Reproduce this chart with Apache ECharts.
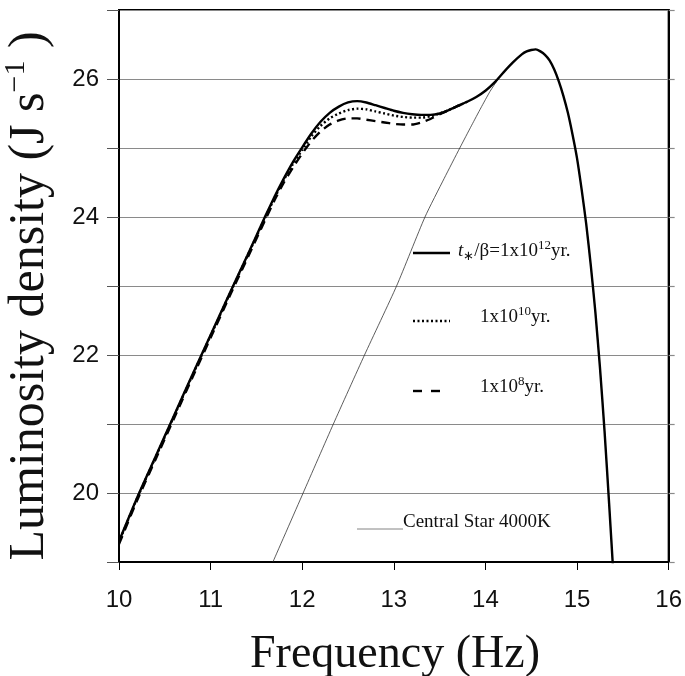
<!DOCTYPE html>
<html>
<head>
<meta charset="utf-8">
<script src="https://cdn.jsdelivr.net/npm/echarts@6/dist/echarts.min.js"></script>
<style>html,body{margin:0;padding:0;background:#fff}#c{width:685px;height:676px}</style>
</head>
<body>
<div id="c"></div>
<script>
// Frequency axis (log Hz) and luminosity density (log J s^-1)
var xTicks = [10, 11, 12, 13, 14, 15, 16];
var yTicks = [20, 22, 24, 26];

// t*/beta = 1e12 yr (solid)
var freqSolid = [10.0, 10.2, 10.4, 10.6, 10.8, 11.0, 11.2, 11.4, 11.6, 11.7, 11.8, 11.9, 12.0, 12.1, 12.2, 12.3, 12.4, 12.5, 12.6, 12.7, 12.8, 12.9, 13.0, 13.1, 13.2, 13.3, 13.4, 13.5, 13.6, 13.7, 13.8, 13.9, 14.0, 14.1, 14.2, 14.3, 14.4, 14.45, 14.5, 14.55, 14.6, 14.65, 14.7, 14.75, 14.8, 14.85, 14.9, 14.95, 15.0, 15.05, 15.1, 15.15, 15.2, 15.25, 15.3, 15.35, 15.4];
var lumSolid  = [19.30, 19.94, 20.53, 21.12, 21.71, 22.29, 22.87, 23.44, 24.02, 24.30, 24.56, 24.80, 25.01, 25.21, 25.38, 25.51, 25.60, 25.66, 25.68, 25.66, 25.62, 25.58, 25.54, 25.51, 25.49, 25.48, 25.48, 25.50, 25.55, 25.61, 25.67, 25.74, 25.83, 25.95, 26.10, 26.24, 26.36, 26.40, 26.42, 26.43, 26.40, 26.35, 26.27, 26.14, 25.97, 25.76, 25.51, 25.20, 24.85, 24.40, 23.90, 23.30, 22.62, 21.82, 20.90, 19.85, 18.75];

// 1e10 yr (dotted)
var freqDot = [10.0, 10.2, 10.4, 10.6, 10.8, 11.0, 11.2, 11.4, 11.6, 11.7, 11.8, 11.9, 12.0, 12.1, 12.2, 12.3, 12.4, 12.5, 12.6, 12.7, 12.8, 12.9, 13.0, 13.1, 13.2, 13.3, 13.4, 13.5, 13.6, 13.7, 13.8];
var lumDot  = [19.29, 19.93, 20.52, 21.11, 21.70, 22.28, 22.86, 23.43, 24.00, 24.28, 24.54, 24.77, 24.97, 25.17, 25.32, 25.43, 25.50, 25.55, 25.57, 25.56, 25.53, 25.50, 25.47, 25.45, 25.44, 25.44, 25.46, 25.50, 25.55, 25.61, 25.67];

// 1e8 yr (dashed)
var freqDash = [10.0, 10.2, 10.4, 10.6, 10.8, 11.0, 11.2, 11.4, 11.6, 11.7, 11.8, 11.9, 12.0, 12.1, 12.2, 12.3, 12.4, 12.5, 12.6, 12.7, 12.8, 12.9, 13.0, 13.1, 13.2, 13.3, 13.4, 13.5, 13.6, 13.7, 13.8];
var lumDash  = [19.26, 19.90, 20.49, 21.08, 21.67, 22.25, 22.83, 23.40, 23.97, 24.25, 24.50, 24.72, 24.92, 25.10, 25.24, 25.34, 25.40, 25.43, 25.43, 25.41, 25.39, 25.37, 25.35, 25.34, 25.34, 25.37, 25.42, 25.49, 25.55, 25.61, 25.67];

// Central star 4000K (thin)
var freqStar = [11.68, 12.01, 12.34, 12.68, 13.03, 13.34, 13.55, 13.72, 13.85, 13.95, 14.05, 14.14, 14.2, 14.3, 14.4, 14.45, 14.5, 14.55, 14.6, 14.65, 14.7, 14.75, 14.8, 14.85, 14.9, 14.95, 15.0, 15.05, 15.1, 15.15, 15.2, 15.25, 15.3, 15.35, 15.4];
var lumStar  = [19.00, 20.00, 21.00, 22.00, 23.00, 24.00, 24.56, 25.00, 25.33, 25.58, 25.82, 26.00, 26.10, 26.24, 26.36, 26.40, 26.42, 26.43, 26.40, 26.35, 26.27, 26.14, 25.97, 25.76, 25.51, 25.20, 24.85, 24.40, 23.90, 23.30, 22.62, 21.82, 20.90, 19.85, 18.75];

function pairs(xs, ys) { return xs.map(function (x, i) { return [x, ys[i]]; }); }

var SERIF = '"Liberation Serif", "Times New Roman", serif';
var SANS = '"Liberation Sans", Arial, sans-serif';

var chart = echarts.init(document.getElementById('c'), null, {renderer: 'canvas'});
chart.setOption({
  animation: false,
  backgroundColor: '#fff',
  grid: {left: 119, right: 15, top: 10, bottom: 114, show: true, borderColor: '#000', borderWidth: 2, backgroundColor: 'transparent'},
  xAxis: {
    type: 'value', min: 10, max: 16, interval: 1,
    axisLine: {show: true, lineStyle: {color: '#000', width: 2}},
    axisTick: {show: true, length: 8, lineStyle: {color: '#000', width: 1}},
    axisLabel: {margin: 26, color: '#111', fontFamily: SANS, fontSize: 24,
      formatter: function (v) { return xTicks.indexOf(v) >= 0 ? String(v) : ''; }},
    splitLine: {show: false}
  },
  yAxis: [{
    type: 'value', min: 19, max: 27, interval: 1,
    axisLine: {show: true, lineStyle: {color: '#000', width: 2}},
    axisTick: {show: true, length: 12, lineStyle: {color: '#555', width: 1}},
    axisLabel: {margin: 20, color: '#111', fontFamily: SANS, fontSize: 24,
      formatter: function (v) { return yTicks.indexOf(v) >= 0 ? String(v) : ''; }},
    splitLine: {show: true, lineStyle: {color: '#8a8a8a', width: 1.2}}
  }, {
    type: 'value', min: 19, max: 27, interval: 1, position: 'right',
    axisLine: {show: true, lineStyle: {color: '#000', width: 2}},
    axisTick: {show: true, length: 6, lineStyle: {color: '#8a8a8a', width: 1.2}},
    axisLabel: {show: false}, splitLine: {show: false}
  }],
  series: [
    {type: 'line', data: pairs(freqStar, lumStar), showSymbol: false, smooth: 0.2, z: 1,
      lineStyle: {color: '#333', width: 0.8}},
    {type: 'line', data: pairs(freqDash, lumDash), showSymbol: false, smooth: 0.2, z: 2,
      lineStyle: {color: '#000', width: 2.4, type: [9, 6]}},
    {type: 'line', data: pairs(freqDot, lumDot), showSymbol: false, smooth: 0.2, z: 3,
      lineStyle: {color: '#000', width: 2.4, type: [2, 2.5]}},
    {type: 'line', data: pairs(freqSolid, lumSolid), showSymbol: false, smooth: 0.2, z: 4,
      lineStyle: {color: '#000', width: 2.4}}
  ],
  graphic: [
    // legend
    {type: 'line', shape: {x1: 413, y1: 253, x2: 450, y2: 253}, style: {stroke: '#000', lineWidth: 2.6}},
    {type: 'text', left: 458, top: 239, style: {
      text: '{i|t}{sub|∗}{n|/β=1x10}{sup|12}{n|yr.}', font: '19px ' + SERIF, fill: '#111',
      rich: {
        i: {fontFamily: SERIF, fontSize: 19, fontStyle: 'italic', lineHeight: 24},
        sub: {fontFamily: SERIF, fontSize: 13, verticalAlign: 'bottom', lineHeight: 24},
        n: {fontFamily: SERIF, fontSize: 19, lineHeight: 24},
        sup: {fontFamily: SERIF, fontSize: 13, verticalAlign: 'top'}
      }}},
    {type: 'line', shape: {x1: 413, y1: 321, x2: 450, y2: 321}, style: {stroke: '#000', lineWidth: 2.4, lineDash: [2, 2.5]}},
    {type: 'text', left: 480, top: 305, style: {
      text: '{n|1x10}{sup|10}{n|yr.}', font: '19px ' + SERIF, fill: '#111',
      rich: {n: {fontFamily: SERIF, fontSize: 19, lineHeight: 24}, sup: {fontFamily: SERIF, fontSize: 13, verticalAlign: 'top'}}}},
    {type: 'line', shape: {x1: 413, y1: 391, x2: 443, y2: 391}, style: {stroke: '#000', lineWidth: 2.4, lineDash: [9, 9]}},
    {type: 'text', left: 480, top: 375, style: {
      text: '{n|1x10}{sup|8}{n|yr.}', font: '19px ' + SERIF, fill: '#111',
      rich: {n: {fontFamily: SERIF, fontSize: 19, lineHeight: 24}, sup: {fontFamily: SERIF, fontSize: 13, verticalAlign: 'top'}}}},
    {type: 'line', shape: {x1: 357, y1: 529, x2: 403, y2: 529}, style: {stroke: '#666', lineWidth: 0.8}},
    {type: 'text', left: 403, top: 513, style: {text: 'Central Star 4000K', font: '19px ' + SERIF, fill: '#111'}},
    // axis titles
    {type: 'text', x: 395, y: 655, style: {text: 'Frequency (Hz)', font: '46px ' + SERIF, fill: '#111', align: 'center', verticalAlign: 'middle'}},
    {type: 'text', x: 30, y: 296, rotation: Math.PI / 2, style: {
      text: '{n|Luminosity density (J s}{sup|−1}{n| )}', fill: '#111', align: 'center', verticalAlign: 'middle', font: '50px ' + SERIF,
      rich: {n: {fontFamily: SERIF, fontSize: 50, lineHeight: 58}, sup: {fontFamily: SERIF, fontSize: 30, verticalAlign: 'top'}}}}
  ]
});
</script>
</body>
</html>
